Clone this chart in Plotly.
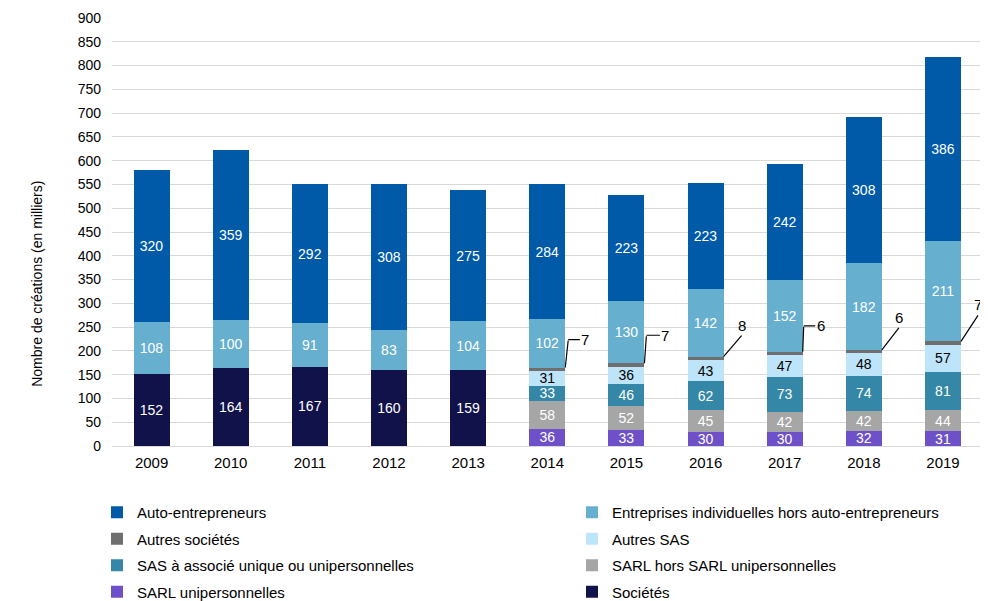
import plotly.graph_objects as go

years = ["2009", "2010", "2011", "2012", "2013", "2014", "2015", "2016", "2017", "2018", "2019"]
societes = [152, 164, 167, 160, 159, None, None, None, None, None, None]
sarl_unip = [None, None, None, None, None, 36, 33, 30, 30, 32, 31]
sarl_hors = [None, None, None, None, None, 58, 52, 45, 42, 42, 44]
sas_assoc = [None, None, None, None, None, 33, 46, 62, 73, 74, 81]
autres_sas = [None, None, None, None, None, 31, 36, 43, 47, 48, 57]
autres_soc = [None, None, None, None, None, 7, 7, 8, 6, 6, 7]
ei = [108, 100, 91, 83, 104, 102, 130, 142, 152, 182, 211]
ae = [320, 359, 292, 308, 275, 284, 223, 223, 242, 308, 386]

FONT = "Liberation Sans, Arial, sans-serif"

# name, values, colour, label colour, legend column, legend rank
series = [
    ("Sociétés", societes, "#12124A", "white", "legend2", 4),
    ("SARL unipersonnelles", sarl_unip, "#6E50C8", "white", "legend", 4),
    ("SARL hors SARL unipersonnelles", sarl_hors, "#A6A6A6", "white", "legend2", 3),
    ("SAS à associé unique ou unipersonnelles", sas_assoc, "#3487A7", "white", "legend", 3),
    ("Autres SAS", autres_sas, "#BDE4F9", "black", "legend2", 2),
    ("Autres sociétés", autres_soc, "#6F6F6F", None, "legend", 2),
    ("Entreprises individuelles hors auto-entrepreneurs", ei, "#67AFCF", "white", "legend2", 1),
    ("Auto-entrepreneurs", ae, "#005AA8", "white", "legend", 1),
]

fig = go.Figure()
for name, vals, color, tcol, leg, rank in series:
    if tcol:
        kw = dict(
            text=[("" if v is None else str(v)) for v in vals],
            textposition="inside",
            insidetextanchor="middle",
            textangle=0,
            constraintext="none",
            textfont=dict(color=tcol, size=14, family=FONT),
        )
    else:
        kw = dict(textposition="none")
    fig.add_trace(go.Bar(
        x=years, y=vals, name=name, marker=dict(color=color, line=dict(width=0)),
        legend=leg, legendgroup=name, legendrank=rank, hoverinfo="skip", **kw
    ))

# leader-line labels for "Autres sociétés"
half_bar = 18
leader_style = {  # year: (kind, dx, dy, label_dx)
    "2014": ("bent", 3, 28, 17),
    "2015": ("bent", 2, 28, 19),
    "2016": ("diag", 18, 21, 0),
    "2017": ("bent", 1, 26, 17),
    "2018": ("diag", 17, 22, 0),
    "2019": ("diag", 17, 26, 0),
}
for i, yr in enumerate(years):
    if autres_soc[i] is None:
        continue
    cum = sum(v for v in (sarl_unip[i], sarl_hors[i], sas_assoc[i], autres_sas[i], autres_soc[i]))
    kind, dx, dy, ldx = leader_style[yr]
    if kind == "bent":
        fig.add_annotation(x=i, y=cum, xshift=half_bar, text=" ", font=dict(size=1),
                           showarrow=True, arrowhead=0, arrowwidth=1.2, arrowcolor="black",
                           ax=dx, ay=-dy, borderpad=0)
        fig.add_annotation(x=i, y=cum, xshift=half_bar + dx, yshift=dy, text=str(autres_soc[i]),
                           font=dict(size=15, color="black", family=FONT),
                           showarrow=True, arrowhead=0, arrowwidth=1.2, arrowcolor="black",
                           ax=ldx, ay=0, standoff=0)
    else:
        fig.add_annotation(x=i, y=cum, xshift=half_bar, text=str(autres_soc[i]),
                           font=dict(size=15, color="black", family=FONT),
                           showarrow=True, arrowhead=0, arrowwidth=1.2, arrowcolor="black",
                           ax=dx, ay=-dy, yanchor="bottom")

# y axis title
fig.add_annotation(text="Nombre de créations (en milliers)", xref="paper", yref="paper",
                   x=-0.097, y=0.38, textangle=-90, showarrow=False,
                   font=dict(size=14, family=FONT, color="black"))

leg_common = dict(orientation="v", xref="container", yref="container",
                  xanchor="left", yanchor="top", traceorder="grouped",
                  tracegroupgap=4, y=1 - 488 / 601,
                  font=dict(size=15, family=FONT, color="black"),
                  bgcolor="rgba(0,0,0,0)", itemwidth=30)
fig.update_layout(
    barmode="stack",
    bargap=0.545,
    width=988, height=601,
    margin=dict(l=104, r=12, t=10, b=163, autoexpand=False),
    plot_bgcolor="white", paper_bgcolor="white",
    font=dict(family=FONT, size=14, color="black"),
    showlegend=True,
    legend=dict(leg_common, x=89 / 988),
    legend2=dict(leg_common, x=564 / 988),
    xaxis=dict(type="category", showline=True, linecolor="#D9D9D9", linewidth=1, ticks="",
               ticklabelstandoff=3,
               tickfont=dict(size=15, family=FONT, color="black")),
    yaxis=dict(range=[0, 900], dtick=50, showgrid=True, gridcolor="#D9D9D9", gridwidth=1,
               zeroline=False, ticks="", ticklabelstandoff=10,
               tickfont=dict(size=14, family=FONT, color="black")),
)

fig.write_html("out.html")
